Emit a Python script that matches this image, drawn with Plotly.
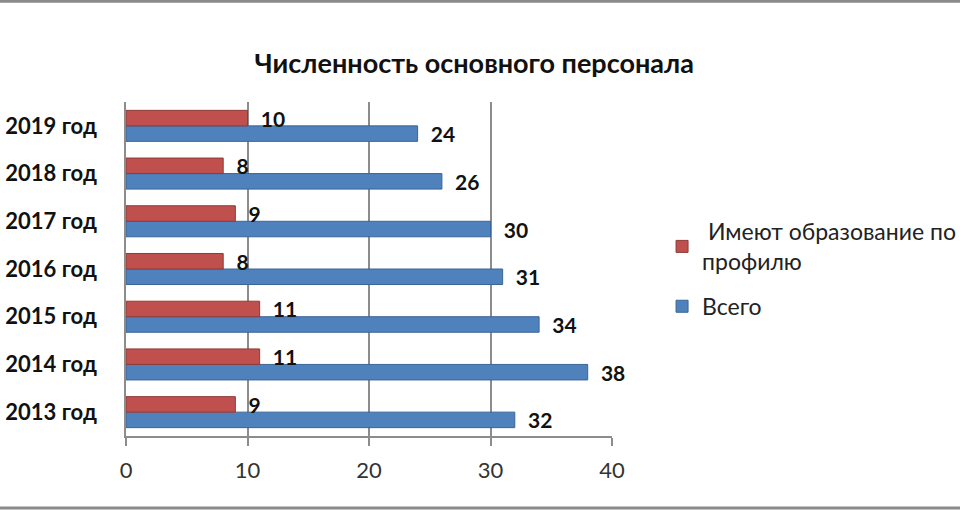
import plotly.graph_objects as go

categories = ["2013 год", "2014 год", "2015 год", "2016 год", "2017 год", "2018 год", "2019 год"]
total_values = [32, 38, 34, 31, 30, 26, 24]
profile_values = [9, 11, 11, 8, 9, 8, 10]
series_names = [" Имеют образование по<br>профилю", "Всего"]
x_ticks = [0, 10, 20, 30, 40]
title_text = "Численность основного персонала"

RED = "#C0504D"
BLUE = "#4F81BD"
FONT = "Lato, 'Open Sans', sans-serif"

fig = go.Figure()
fig.add_trace(go.Bar(
    y=categories, x=total_values, orientation="h", name=series_names[1],
    marker=dict(color=BLUE, line=dict(color="#3A6596", width=1)),
    text=total_values, texttemplate="\u00a0\u00a0%{x}", textposition="outside",
    constraintext="none", cliponaxis=False,
    textfont=dict(family=FONT, size=21, color="#111111", weight="bold"),
    legendgroup="b", legendrank=2,
))
fig.add_trace(go.Bar(
    y=categories, x=profile_values, orientation="h", name=series_names[0],
    marker=dict(color=RED, line=dict(color="#8E3A38", width=1)),
    text=profile_values, texttemplate="\u00a0\u00a0%{x}", textposition="outside",
    constraintext="none", cliponaxis=False,
    textfont=dict(family=FONT, size=21, color="#111111", weight="bold"),
    legendgroup="a", legendrank=1,
))

fig.update_layout(
    width=960, height=510,
    margin=dict(l=126, r=348, t=102, b=74, autoexpand=False),
    paper_bgcolor="white", plot_bgcolor="white",
    barmode="group", bargap=0.35, bargroupgap=0,
    font=dict(family=FONT, color="#222222"),
    title=dict(text=title_text, x=0.494, xanchor="center", y=0.876, yanchor="middle",
               font=dict(family=FONT, size=27, color="#111111", weight="bold")),
    legend=dict(x=1.103, y=0.5, xanchor="left", yanchor="middle",
                font=dict(family=FONT, size=23, color="#222222"),
                traceorder="grouped", tracegroupgap=12, bgcolor="rgba(0,0,0,0)"),
    shapes=[
        dict(type="line", xref="paper", yref="paper", x0=-0.3, x1=1.75, y0=1.302, y1=1.302,
             line=dict(color="#8A8A8A", width=3)),
        dict(type="line", xref="paper", yref="paper", x0=-0.3, x1=1.75, y0=-0.2156, y1=-0.2156,
             line=dict(color="#8A8A8A", width=3)),
    ],
)
fig.update_xaxes(
    range=[0, 40], tickvals=x_ticks, ticktext=[str(v) for v in x_ticks],
    showgrid=True, gridcolor="#8C8C8C", gridwidth=1.5, zeroline=False,
    showline=True, linecolor="#8C8C8C", linewidth=1.5,
    ticks="outside", ticklen=8, tickcolor="#8C8C8C", tickwidth=1.5,
    ticklabelstandoff=6, automargin=False,
    tickfont=dict(family=FONT, size=22, color="#333333"),
)
fig.update_yaxes(
    showgrid=False, zeroline=False, showline=True, linecolor="#8C8C8C", linewidth=1.5,
    ticks="", ticklabelstandoff=23, automargin=False,
    tickfont=dict(family=FONT, size=22, color="#111111", weight="bold"),
)

fig.write_html("out.html", config={"displayModeBar": False},
               post_script="document.body.style.margin='0';document.body.style.overflow='hidden';"
                           "document.documentElement.style.overflow='hidden';")
